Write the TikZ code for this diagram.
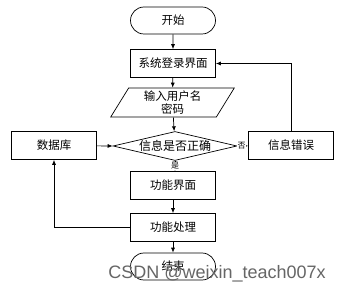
\documentclass[tikz,border=0pt]{standalone}
\usepackage{fontspec}
\setmainfont{Liberation Sans}
\newfontfamily\cjk{Noto Sans CJK SC}
\usetikzlibrary{shapes.geometric,shapes.misc,arrows.meta}
\begin{document}
\begin{tikzpicture}[x=1pt,y=-1pt,
  every node/.style={font=\cjk\fontsize{11.5}{13}\selectfont, inner sep=0pt},
  boxnode/.style={draw, line width=0.7pt, minimum width=85pt, minimum height=28pt},
  termnode/.style={draw, line width=0.7pt, rounded rectangle, minimum width=85pt, minimum height=27pt},
  ionode/.style={draw, line width=0.7pt, trapezium, trapezium left angle=64, trapezium right angle=116, trapezium stretches=true, minimum width=124pt, minimum height=29pt, align=center, font=\cjk\fontsize{11.5}{13.5}\selectfont},
  decnode/.style={draw, line width=0.7pt, diamond, minimum width=124pt, minimum height=29pt, inner sep=1pt},
  conn/.style={line width=0.7pt, -{Latex[length=5pt,width=4pt]}},
  smalllab/.style={font=\cjk\fontsize{8}{9}\selectfont, fill=white, inner sep=0.5pt}
]
\useasboundingbox (0,0) rectangle (348,291);
\fill[white] (0,0) rectangle (348,291);

\node[termnode] (start) at (173,20.5) {开始};
\node[boxnode] (login) at (173,63.5) {系统登录界面};
\node[ionode] (input) at (172.5,102.5) {输入用户名\\密码};
\node[decnode] (dec) at (175,146) {};
\node[font=\cjk\fontsize{12}{13}\selectfont] (dectext) at (175,146) {信息是否正确};
\node[boxnode] (db) at (54,145.5) {数据库};
\node[boxnode] (err) at (291,145.5) {信息错误};
\node[boxnode] (func) at (173,185.5) {功能界面};
\node[boxnode] (proc) at (173,227.5) {功能处理};
\node[termnode] (end) at (173,266.5) {结束};

\draw[conn] (start) -- (login);
\draw[conn] (login) -- (input);
\draw[conn] (input) -- (dec);
\draw[conn] (db) -- (dec.west);
\draw[conn] (dec.east) -- node[smalllab, pos=0.4] {否} (err);
\draw[conn] (dec.south) -- node[smalllab, pos=0.5] {是} (func.north -| dec.south);
\draw[conn] (err.north) |- (login.east);
\draw[conn] (func) -- (proc);
\draw[conn] (proc.west) -| (db.south);
\draw[conn] (proc) -- (end);

\node[font=\fontsize{18}{20}\selectfont, text=black!60, anchor=base] (wm) at (217,278) {CSDN @weixin\_teach007x};
\end{tikzpicture}
\end{document}
